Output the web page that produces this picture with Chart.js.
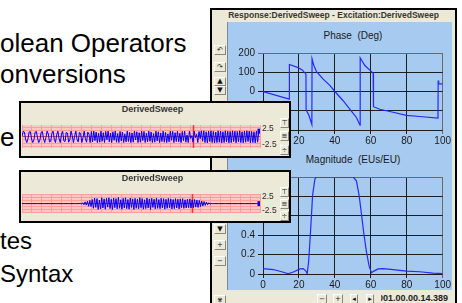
<!DOCTYPE html>
<html>
<head>
<meta charset="utf-8">
<script src="https://cdn.jsdelivr.net/npm/chart.js@4.4.1/dist/chart.umd.min.js"></script>
<style>
  html, body { margin: 0; padding: 0; background: #fff; overflow: hidden; }
  body { width: 462px; height: 303px; position: relative; font-family: 'Liberation Sans', Arial, sans-serif; }
  .abs { position: absolute; }
  .slide { position: absolute; left: 0; color: #000; white-space: pre; }
  .win { position: absolute; box-sizing: border-box; border: 2px solid #000; background: #ece9d8; }
  .btn { position: absolute; box-sizing: border-box; background: #ece9d8; border: 1px solid; border-color: #fff #8a877a #8a877a #fff;
         font: 7px 'DejaVu Sans'; text-align: center; color: #111; overflow: hidden; }
  .cap { position: absolute; font-weight: bold; color: #363636; text-align: center; white-space: pre; }
  .ttl { position: absolute; font-size: 10px; line-height: 12px; color: #1b1b1b; text-align: center; white-space: pre; }
</style>
</head>
<body>

<!-- slide text behind the windows -->
<div class="slide" style="top:30px; font-size:26px; line-height:26px;">olean Operators</div>
<div class="slide" style="top:61px; font-size:26px; line-height:26px;">onversions</div>
<div class="slide" style="top:124px; font-size:26px; line-height:26px;">e</div>
<div class="slide" style="top:229px; font-size:24px; line-height:24px;">tes</div>
<div class="slide" style="top:262px; font-size:24px; line-height:24px;">Syntax</div>

<!-- main response window -->
<div class="win" style="left:210px; top:8px; width:247px; height:300px;"></div>
<div class="cap" style="left:212px; top:10px; width:243px; height:11px; font-size:8.5px; line-height:11px;">Response:DerivedSweep - Excitation:DerivedSweep</div>
<div class="abs" style="left:227px; top:22px; width:225px; height:268px; background:#a6caf0; border-left:1px solid #7d8796; box-sizing:border-box;"></div>

<div class="ttl" style="left:263px; top:30px; width:180px;">Phase  (Deg)</div>
<canvas id="phaseChart" class="abs" style="left:228px; top:44px;" width="224" height="108"></canvas>
<div class="ttl" style="left:263px; top:154px; width:180px;">Magnitude  (EUs/EU)</div>
<canvas id="magChart" class="abs" style="left:228px; top:168px;" width="224" height="122"></canvas>

<div class="btn" style="left:214px; top:45px; width:12px; height:10px; line-height:8px;">↶</div>
<div class="btn" style="left:214px; top:62px; width:12px; height:10px; line-height:8px;">↷</div>
<div class="btn" style="left:214px; top:77px; width:12px; height:9px; line-height:7px;">▲</div>
<div class="btn" style="left:214px; top:86px; width:12px; height:9px; line-height:7px;">▼</div>
<div class="btn" style="left:214px; top:224px; width:12px; height:10px; line-height:8px;">▼</div>
<div class="btn" style="left:214px; top:240px; width:12px; height:10px; line-height:8px;">+</div>
<div class="btn" style="left:214px; top:256px; width:12px; height:10px; line-height:8px;">−</div>
<div class="btn" style="left:214px; top:295px; width:12px; height:10px; line-height:8px;">⋇</div>

<div class="btn" style="left:317px; top:294px; width:10px; height:10px; line-height:8px;">−</div>
<div class="btn" style="left:333px; top:294px; width:10px; height:10px; line-height:8px;">+</div>
<div class="btn" style="left:350px; top:294px; width:8px; height:10px; line-height:8px;">◂</div>
<div class="btn" style="left:366px; top:294px; width:8px; height:10px; line-height:8px;">▸</div>
<div class="abs" style="left:381px; top:292px; width:72px; height:12px; overflow:hidden;">
  <div style="margin-left:-3px; font:bold 9px 'Liberation Sans'; line-height:12px; color:#222; white-space:pre;">001.00.00.14.389</div>
</div>

<!-- strip window 1 : full sweep -->
<div class="win" style="left:19px; top:101px; width:272px; height:57px;"></div>
<div class="cap" style="left:21px; top:103px; width:263px; height:14px; font-size:9px; line-height:13px;">DerivedSweep</div>
<canvas id="sweepChart" class="abs" style="left:22px; top:118px;" width="258" height="37"></canvas>
<div class="btn" style="left:280px; top:118px; width:9px; height:10px; line-height:8px;">⊤</div>
<div class="btn" style="left:280px; top:131px; width:9px; height:10px; line-height:8px;">≡</div>
<div class="btn" style="left:280px; top:145px; width:9px; height:10px; line-height:8px;">÷</div>

<!-- strip window 2 : burst -->
<div class="win" style="left:19px; top:170px; width:272px; height:53px;"></div>
<div class="cap" style="left:21px; top:172px; width:263px; height:14px; font-size:9px; line-height:13px;">DerivedSweep</div>
<canvas id="burstChart" class="abs" style="left:22px; top:187px;" width="258" height="33"></canvas>
<div class="btn" style="left:280px; top:187px; width:9px; height:10px; line-height:8px;">⊤</div>
<div class="btn" style="left:280px; top:199px; width:9px; height:10px; line-height:8px;">≡</div>
<div class="btn" style="left:280px; top:211px; width:9px; height:10px; line-height:8px;">÷</div>

<script>
// axis ticks
const freqTicks = [0, 20, 40, 60, 80, 100];
const phaseTicks = [-200, -100, 0, 100, 200];
const magTicks = [0, 0.2, 0.4, 0.6, 0.8, 1];
const stripTicks = [-2.5, 0, 2.5];
const stripGrid = [-3, -2, -1, 0, 1, 2, 3];

// phase response (Hz -> deg)
const phaseFreq = [0, 14.6, 14.7, 19.6, 22, 23.9, 24.0, 25.6, 27.2, 27.3, 28.3, 29.8, 33.5, 37.2, 40,
                   44.6, 49.3, 52, 54, 54.1, 56.7, 60.4, 61.3, 61.5, 65, 72.4, 79.8, 87.2, 97.4, 97.5, 97.8, 100];
const phaseDeg = [0, -40, 140, 124, 111, 90, -95, -125, -171, 170, 135, 103, 64, 32, 0,
                  -48, -103, -135, -175, 175, 135, 103, 95, -79, -92, -108, -124, -130, -138, 57, 40, 40];

// magnitude response (Hz -> EUs/EU)
const magFreq = [0, 5.7, 10.4, 14.1, 17.2, 20.6, 22.4, 23.9, 24.6, 25.4, 26.5, 27.6, 28.9, 29.8,
                 50.2, 52, 53.5, 54.8, 56.1, 57.6, 59.1, 60.4, 61.7, 64.1, 66.9, 72.4, 79.8, 87.2, 94.6, 100];
const magEU = [0.056, 0.046, 0.023, 0.003, 0.023, 0.052, 0.056, 0.03, 0.003, 0.127, 0.45, 0.81, 0.98, 1.0,
               1.0, 0.96, 0.81, 0.62, 0.42, 0.225, 0.078, 0.013, 0.03, 0.052, 0.056, 0.046, 0.03, 0.023, 0.01, 0.003];

// time record of the sweep (one value per sample)
const sweepSamples = [
  0.2, 1.7, 1.5, -0.8, -1.8, -0.6, 1.6, 1.6, -0.7, -1.8, -0.9, 1.5, 1.7, -0.4, -1.8, -1.0, 1.4, 1.7, -0.6, -1.8,
  -0.2, 1.8, 0.9, -1.6, -1.4, 1.1, 1.8, -0.8, -1.8, 0.6, 1.8, -0.6, -1.8, 0.9, 1.7, -1.3, -1.5, 1.4, 1.2, -1.7,
  -0.9, 1.8, 0.4, -1.8, 0.2, 1.8, -0.8, -1.6, 1.4, 1.1, -1.8, -0.3, 1.8, -0.6, -1.7, 1.5, 0.8, -1.8,
  1.7, -1.6, 1.8, -1.2, 1.5, -1.8, 1.1, -1.7, 1.8, -1.4, 1.3, -1.8, 1.7, -0.9, 1.8, -1.6, 1.2, -1.8, 1.6, -1.1,
  1.8, -1.7, 1.0, -1.8, 1.7, -1.3, 1.5, -1.8, 0.9, -1.6, 1.8, -1.5, 1.4, -1.8, 1.2, -1.7, 1.8, -1.0, 1.6, -1.8,
  1.3, -1.7, 1.8, -1.2, 1.7, -1.8, 1.1, -1.6, 1.8, -1.4, 1.5, -1.8, 1.0, -1.7, 1.8, -1.3, 1.6, -1.8, 1.2, -1.5,
  1.8, -1.7, 1.4, -1.8, 0.9, -1.6, 1.8, -1.1, 1.7, -1.8, 1.3, -1.5, 1.8, -1.6, 1.1, -1.8, 1.7, -1.2, 1.8, -1.7,
  0.6, -1.8, 1.8, -0.5, 0.4, -1.7, 1.8, -0.3, 0.8, -1.8, 1.7, -0.6, 1.9, -1.4,
  1.9, -1.8, 1.6, -1.9, 1.8, -1.5, 1.9, -1.8, 1.7, -1.9, 1.5, -1.8, 1.9, -1.7, 1.8, -1.9, 1.6, -1.8, 1.9, -1.6,
  1.8, -1.9, 1.7, -1.8, 1.9, -1.5, 1.8, -1.9, 1.7, -1.6, 1.9, -1.8, 1.6, -1.9, 1.8, -1.7, 1.9, -1.5, 1.8, -1.9,
  1.7, -1.8, 1.6, -1.9, 1.8, -1.7, 1.5, 1.8
];

// time record of the burst
const burstSamples = [
  0, 0, 0, 0, 0, 0, 0, 0, 0, 0, 0, 0, 0, 0, 0, 0, 0, 0, 0, 0, 0, 0, 0, 0, 0,
  0, 0, 0, 0, 0, 0, 0, 0, 0, 0, 0, 0, 0, 0, 0, 0, 0, 0, 0, 0, 0, 0, 0, 0,
  0.1, -0.2, 0.3, -0.4, 0.6, -0.5, 0.8, -0.9, 1.1, -1.0,
  1.4, -1.6, 1.9, -1.3, 1.7, -2.0, 1.2, -1.8, 2.0, -1.5, 1.6, -1.9, 1.8, -1.2, 2.0, -1.7, 1.5, -2.0, 1.9, -1.4,
  1.7, -1.8, 2.1, -1.6, 1.3, -1.9, 1.8, -1.5, 2.0, -1.7, 1.4, -1.9, 1.9, -1.3, 1.6, -2.0, 1.8, -1.6, 1.5, -1.8,
  2.0, -1.4, 1.7, -1.9, 1.3, -1.7, 1.9, -1.5, 1.6, -2.0, 1.8, -1.3, 1.5, -1.8, 1.9, -1.6, 1.4, -1.7, 1.8, -1.5,
  1.7, -1.9, 1.5, -1.6, 1.8, -1.4, 1.6, -1.8, 1.4, -1.7, 1.7, -1.5, 1.5, -1.8, 1.6, -1.4, 1.7, -1.6, 1.3, -1.5,
  1.5, -1.4, 1.6, -1.5, 1.3, -1.4, 1.4, -1.2, 1.2, -1.3, 1.1, -1.0,
  0.9, -0.8, 0.7, -0.6, 0.5, -0.4, 0.3, -0.2,
  0, 0, 0, 0, 0, 0, 0, 0, 0, 0, 0, 0, 0, 0, 0, 0, 0, 0, 0, 0, 0,
  0, 0, 0, 0, 0, 0, 0, 0, 0, 0, 0, 0, 0, 0, 0, 0, 0, 0, 0, 0, 0
];

const cursorSample = 143;

const INK = '#1b1b1b';
const GRID = '#1e1e1e';
const EDGE = '#6a6a6a';
const TICK_FONT = { family: 'Liberation Sans', size: 10 };

// pink record background + red cursor of the strip windows
const stripBack = {
  id: 'stripBack',
  beforeDraw(chart) {
    const { ctx, chartArea: a } = chart;
    ctx.save();
    ctx.fillStyle = '#ffc6c6';
    ctx.fillRect(a.left, a.top, a.right - a.left, a.bottom - a.top);
    ctx.restore();
  },
  beforeDatasetsDraw(chart, args, opts) {
    const { ctx, chartArea: a } = chart;
    const x = Math.round(chart.scales.x.getPixelForValue(opts.cursor)) + 0.5;
    ctx.save();
    ctx.strokeStyle = '#ff3030';
    ctx.lineWidth = 1.5;
    ctx.beginPath();
    ctx.moveTo(x, a.top);
    ctx.lineTo(x, a.bottom);
    ctx.stroke();
    ctx.restore();
  }
};

function bodeChart(id, xs, ys, yTicks, xHeight, xPad) {
  const yMax = yTicks[yTicks.length - 1];
  return new Chart(document.getElementById(id), {
    type: 'scatter',
    data: {
      datasets: [{
        data: xs.map((x, i) => ({ x: x, y: ys[i] })),
        showLine: true,
        borderColor: '#2828ff',
        borderWidth: 1.2,
        pointRadius: 0
      }]
    },
    options: {
      responsive: false,
      animation: false,
      devicePixelRatio: 1,
      layout: { padding: { top: 4, right: 9, left: 0, bottom: 0 }, autoPadding: false },
      plugins: { legend: { display: false }, tooltip: { enabled: false } },
      scales: {
        x: {
          type: 'linear', min: 0, max: 100,
          afterBuildTicks: s => { s.ticks = freqTicks.map(v => ({ value: v })); },
          afterFit: s => { s.height = xHeight; },
          grid: { color: c => (c.tick && c.tick.value === 100 ? EDGE : GRID), tickLength: 4 },
          border: { display: false },
          ticks: { color: INK, font: TICK_FONT, padding: xPad, maxRotation: 0, autoSkip: false }
        },
        y: {
          min: yTicks[0], max: yMax,
          afterBuildTicks: s => { s.ticks = yTicks.map(v => ({ value: v })); },
          afterFit: s => { s.width = 35; },
          grid: { color: c => (c.tick && c.tick.value === yMax ? EDGE : GRID), tickLength: 5 },
          border: { display: false },
          ticks: { color: INK, font: TICK_FONT, padding: 3 }
        }
      }
    }
  });
}

function stripChart(id, values, yMin, yMax) {
  const last = values.length - 1;
  return new Chart(document.getElementById(id), {
    type: 'scatter',
    data: {
      datasets: [{
        data: values.map((v, i) => ({ x: i, y: v })),
        showLine: true,
        borderColor: '#0000ff',
        borderWidth: 1,
        pointStyle: 'rect',
        pointRadius: c => (c.dataIndex === last ? 3.5 : 0),
        pointBackgroundColor: '#0000ff',
        pointBorderColor: '#0000ff',
        pointBorderWidth: 0
      }]
    },
    plugins: [stripBack],
    options: {
      responsive: false,
      animation: false,
      devicePixelRatio: 1,
      layout: { padding: 0, autoPadding: false },
      plugins: { legend: { display: false }, tooltip: { enabled: false }, stripBack: { cursor: cursorSample } },
      scales: {
        x: {
          type: 'linear', min: 0, max: last,
          ticks: { display: false, count: 25, maxTicksLimit: 40 },
          grid: { color: '#ff9c9c', drawTicks: false },
          border: { display: false },
          afterFit: s => { s.height = 0; }
        },
        y: {
          min: yMin, max: yMax,
          afterBuildTicks: s => { s.ticks = stripGrid.map(v => ({ value: v })); },
          ticks: { display: false },
          grid: { color: c => (c.tick && c.tick.value === 0 ? '#d65050' : '#ff9c9c'), drawTicks: false },
          border: { display: false },
          afterFit: s => { s.width = 0; }
        },
        yr: {
          position: 'right', min: yMin, max: yMax,
          afterBuildTicks: s => { s.ticks = stripTicks.map(v => ({ value: v })); },
          grid: { display: false, drawTicks: false },
          border: { display: false },
          ticks: { color: '#2a2a2a', font: { family: 'Liberation Sans', size: 8.5 }, padding: 2 },
          afterFit: s => { s.width = 20; }
        }
      }
    }
  });
}

bodeChart('phaseChart', phaseFreq, phaseDeg, phaseTicks, 22, 1);
bodeChart('magChart', magFreq, magEU, magTicks, 16, 1);
stripChart('sweepChart', sweepSamples, -3.5, 3.7);
stripChart('burstChart', burstSamples, -3.17, 3.25);
</script>
</body>
</html>
